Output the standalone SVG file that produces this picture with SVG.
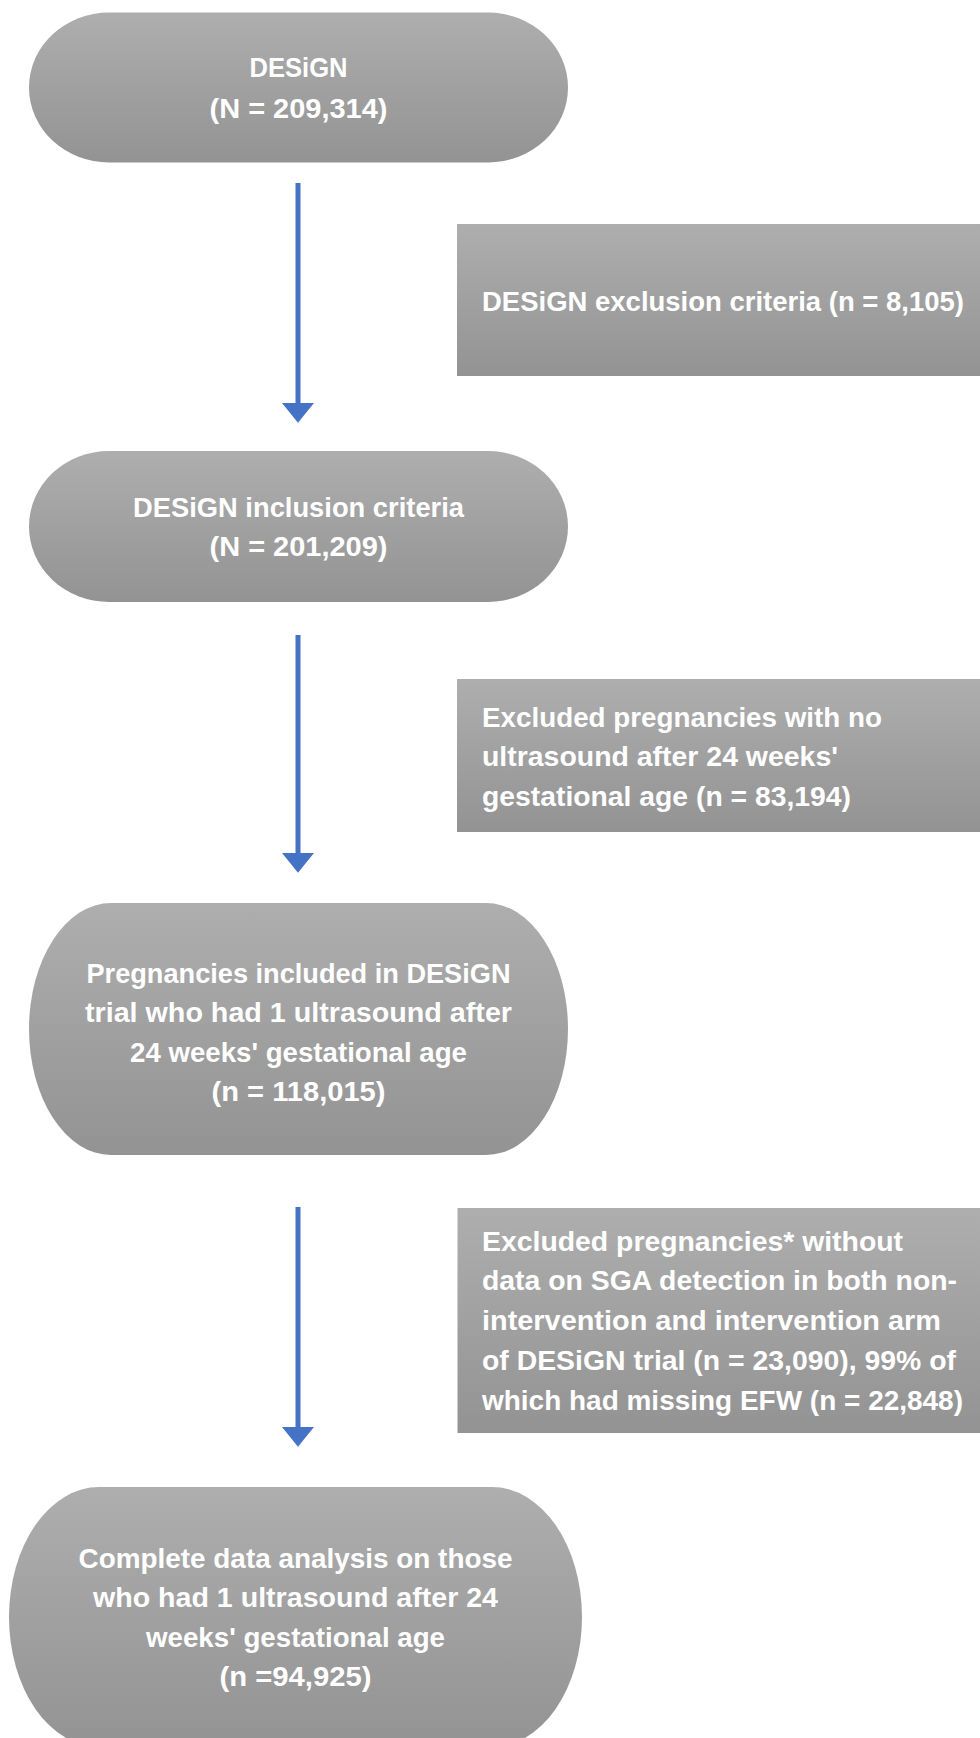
<svg xmlns="http://www.w3.org/2000/svg" width="980" height="1738" viewBox="0 0 980 1738">
<defs>
<linearGradient id="g" x1="0" y1="0" x2="0" y2="1">
<stop offset="0" stop-color="#aeaeae"/>
<stop offset="1" stop-color="#939393"/>
</linearGradient>
<style>
.n{fill:url(#g);}
.t{font-family:"Liberation Sans",Arial,sans-serif;font-weight:bold;font-size:28px;fill:#ffffff;}
.c{text-anchor:middle;}
.conn line{stroke:#4472C4;stroke-width:5;}
.conn polygon{fill:#4472C4;}
</style>
</defs>
<rect width="980" height="1738" fill="#ffffff"/>
<g id="connectors" class="conn">
<line x1="298" y1="183" x2="298" y2="405"/>
<polygon points="282,403 314,403 298,422.7"/>
<line x1="298" y1="635" x2="298" y2="855"/>
<polygon points="282,853 314,853 298,872.7"/>
<line x1="298" y1="1207" x2="298" y2="1429"/>
<polygon points="282,1427 314,1427 298,1446.7"/>
</g>
<g id="node-design">
<rect class="n" x="29" y="12.5" width="539" height="150" rx="80" ry="75"/>
<text class="t c" x="298.5" y="77" textLength="98" lengthAdjust="spacingAndGlyphs">DESiGN</text>
<text class="t c" x="298.5" y="117.5" textLength="178" lengthAdjust="spacingAndGlyphs">(N = 209,314)</text>
</g>
<g id="box-exclusion">
<rect class="n" x="457" y="224" width="523" height="152"/>
<text class="t" x="482" y="310.5" textLength="482" lengthAdjust="spacingAndGlyphs">DESiGN exclusion criteria (n = 8,105)</text>
</g>
<g id="node-inclusion">
<rect class="n" x="29" y="451" width="539" height="151" rx="80" ry="75.5"/>
<text class="t c" x="298.5" y="516.5" textLength="331" lengthAdjust="spacingAndGlyphs">DESiGN inclusion criteria</text>
<text class="t c" x="298.5" y="555.5" textLength="178" lengthAdjust="spacingAndGlyphs">(N = 201,209)</text>
</g>
<g id="box-no-ultrasound">
<rect class="n" x="457" y="679" width="523" height="153"/>
<text class="t" x="482" y="726.5" textLength="400" lengthAdjust="spacingAndGlyphs">Excluded pregnancies with no</text>
<text class="t" x="482" y="766" textLength="356" lengthAdjust="spacingAndGlyphs">ultrasound after 24 weeks'</text>
<text class="t" x="482" y="805.5" textLength="369" lengthAdjust="spacingAndGlyphs">gestational age (n = 83,194)</text>
</g>
<g id="node-included">
<rect class="n" x="29" y="903" width="539" height="252" rx="82" ry="126"/>
<text class="t c" x="298.5" y="982.5" textLength="424" lengthAdjust="spacingAndGlyphs">Pregnancies included in DESiGN</text>
<text class="t c" x="298.5" y="1022" textLength="427" lengthAdjust="spacingAndGlyphs">trial who had 1 ultrasound after</text>
<text class="t c" x="298.5" y="1061.5" textLength="337" lengthAdjust="spacingAndGlyphs">24 weeks' gestational age</text>
<text class="t c" x="298.5" y="1101" textLength="174" lengthAdjust="spacingAndGlyphs">(n = 118,015)</text>
</g>
<g id="box-no-sga">
<rect class="n" x="457.5" y="1208" width="522.5" height="225"/>
<text class="t" x="482" y="1250.5" textLength="421" lengthAdjust="spacingAndGlyphs">Excluded pregnancies* without</text>
<text class="t" x="482" y="1290" textLength="475" lengthAdjust="spacingAndGlyphs">data on SGA detection in both non-</text>
<text class="t" x="482" y="1330" textLength="459" lengthAdjust="spacingAndGlyphs">intervention and intervention arm</text>
<text class="t" x="482" y="1370" textLength="474" lengthAdjust="spacingAndGlyphs">of DESiGN trial (n = 23,090), 99% of</text>
<text class="t" x="482" y="1410" textLength="481" lengthAdjust="spacingAndGlyphs">which had missing EFW (n = 22,848)</text>
</g>
<g id="node-complete">
<rect class="n" x="9" y="1487" width="573" height="260" rx="90" ry="130"/>
<text class="t c" x="295.5" y="1567.5" textLength="434" lengthAdjust="spacingAndGlyphs">Complete data analysis on those</text>
<text class="t c" x="295.5" y="1607" textLength="405" lengthAdjust="spacingAndGlyphs">who had 1 ultrasound after 24</text>
<text class="t c" x="295.5" y="1646.5" textLength="299" lengthAdjust="spacingAndGlyphs">weeks' gestational age</text>
<text class="t c" x="295.5" y="1686" textLength="152" lengthAdjust="spacingAndGlyphs">(n =94,925)</text>
</g>
</svg>
